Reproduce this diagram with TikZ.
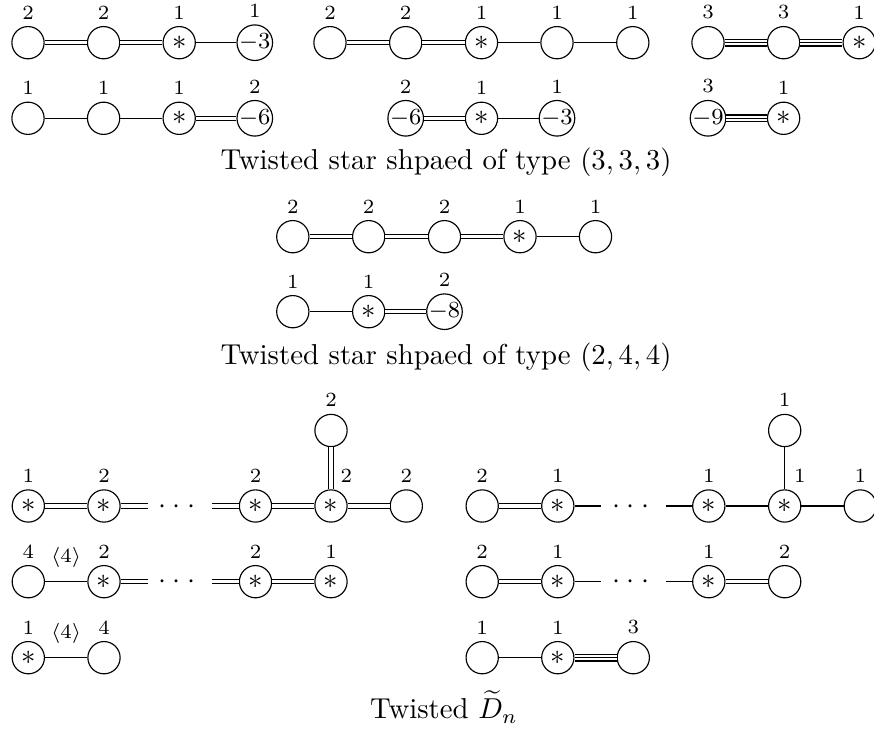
\documentclass[tikz,border=0pt]{standalone}
\newcommand{\starmark}{{\normalsize$\ast$}}
\begin{document}
\begin{tikzpicture}[x=0.3472pt,y=-0.3472pt,
  v/.style={circle, draw, minimum size=11.2pt, inner sep=0pt, font=\footnotesize},
  every label/.style={font=\scriptsize, inner sep=0pt},
  label distance=2.2pt,
  dbl/.style={double, double distance=1.1pt},
  trp/.style={preaction={draw, double, double distance=1.9pt}},
  dotsnode/.style={anchor=base, inner sep=0pt},
  captext/.style={anchor=base, inner sep=0pt},
  edgelab/.style={font=\scriptsize, inner sep=0pt, yshift=8.3pt}]
\useasboundingbox (0,0) rectangle (874,731);
\newcommand{\dts}{${\cdot}\hspace{2.4pt}{\cdot}\hspace{2.4pt}{\cdot}$}
% ---------- group A ----------
\node[v, label=above:2] (a1) at (28,42.7) {};
\node[v, label=above:2] (a2) at (103.6,42.7) {};
\node[v, label=above:1] (a3) at (179.2,42.7) {\starmark};
\node[v, label=above:1] (a4) at (254.8,42.7) {$-3$};
\draw[dbl] (a1) -- (a2);
\draw[dbl] (a2) -- (a3);
\draw (a3) -- (a4);
\node[v, label=above:1] (b1) at (28,118.3) {};
\node[v, label=above:1] (b2) at (103.6,118.3) {};
\node[v, label=above:1] (b3) at (179.2,118.3) {\starmark};
\node[v, label=above:2] (b4) at (254.8,118.3) {$-6$};
\draw (b1) -- (b2);
\draw (b2) -- (b3);
\draw[dbl] (b3) -- (b4);
% ---------- group B ----------
\node[v, label=above:2] (c1) at (330,42.7) {};
\node[v, label=above:2] (c2) at (405.7,42.7) {};
\node[v, label=above:1] (c3) at (481.5,42.7) {\starmark};
\node[v, label=above:1] (c4) at (557,42.7) {};
\node[v, label=above:1] (c5) at (632.8,42.7) {};
\draw[dbl] (c1) -- (c2);
\draw[dbl] (c2) -- (c3);
\draw (c3) -- (c4);
\draw (c4) -- (c5);
\node[v, label=above:2] (d1) at (405.7,118.3) {$-6$};
\node[v, label=above:1] (d2) at (481.5,118.3) {\starmark};
\node[v, label=above:1] (d3) at (557,118.3) {$-3$};
\draw[dbl] (d1) -- (d2);
\draw (d2) -- (d3);
% ---------- group C ----------
\node[v, label=above:3] (e1) at (708,42.7) {};
\node[v, label=above:3] (e2) at (783.6,42.7) {};
\node[v, label=above:1] (e3) at (859.2,42.7) {\starmark};
\draw[trp] (e1) -- (e2);
\draw[trp] (e2) -- (e3);
\node[v, label=above:3] (f1) at (708,118.3) {$-9$};
\node[v, label=above:1] (f2) at (783.6,118.3) {\starmark};
\draw[trp] (f1) -- (f2);
\node[captext] (cap1) at (446,170) {Twisted star shpaed of type $(3,3,3)$};
% ---------- middle ----------
\node[v, label=above:2] (g1) at (292.8,236.7) {};
\node[v, label=above:2] (g2) at (368.7,236.7) {};
\node[v, label=above:2] (g3) at (444.5,236.7) {};
\node[v, label=above:1] (g4) at (520,236.7) {\starmark};
\node[v, label=above:1] (g5) at (595.5,236.7) {};
\draw[dbl] (g1) -- (g2);
\draw[dbl] (g2) -- (g3);
\draw[dbl] (g3) -- (g4);
\draw (g4) -- (g5);
\node[v, label=above:1] (h1) at (292.8,311.7) {};
\node[v, label=above:1] (h2) at (368.7,311.7) {\starmark};
\node[v, label=above:2] (h3) at (444.5,311.7) {$-8$};
\draw (h1) -- (h2);
\draw[dbl] (h2) -- (h3);
\node[captext] (cap2) at (446,365) {Twisted star shpaed of type $(2,4,4)$};
% ---------- bottom left ----------
\node[v, label=above:2] (k0) at (331,430.5) {};
\node[v, label=above:1] (k1) at (28.3,506) {\starmark};
\node[v, label=above:2] (k2) at (104,506) {\starmark};
\coordinate (kL) at (148,506);
\node[dotsnode] (kd) at (177,513.2) {\dts};
\coordinate (kR) at (212,506);
\node[v, label=above:2] (k3) at (255.5,506) {\starmark};
\node[v, label={[xshift=5.3pt]above:2}] (k4) at (331,506) {\starmark};
\node[v, label=above:2] (k5) at (406.3,506) {};
\draw[dbl] (k1) -- (k2);
\draw[dbl] (k2) -- (kL);
\draw[dbl] (kR) -- (k3);
\draw[dbl] (k3) -- (k4);
\draw[dbl] (k4) -- (k5);
\draw[dbl] (k0) -- (k4);
\node[v, label=above:4] (m1) at (28.3,581.7) {};
\node[v, label=above:2] (m2) at (104,581.7) {\starmark};
\coordinate (mL) at (148,581.7);
\node[dotsnode] (md) at (177,588.9) {\dts};
\coordinate (mR) at (212,581.7);
\node[v, label=above:2] (m3) at (255.5,581.7) {\starmark};
\node[v, label=above:1] (m4) at (331,581.7) {\starmark};
\draw (m1) -- node[edgelab] {$\langle 4\rangle$} (m2);
\draw[dbl] (m2) -- (mL);
\draw[dbl] (mR) -- (m3);
\draw[dbl] (m3) -- (m4);
\node[v, label=above:1] (n1) at (28.3,657.7) {\starmark};
\node[v, label=above:4] (n2) at (104,657.7) {};
\draw (n1) -- node[edgelab] {$\langle 4\rangle$} (n2);
% ---------- bottom right ----------
\node[v, label=above:1] (p0) at (784.7,430.5) {};
\node[v, label=above:2] (p1) at (482.2,506) {};
\node[v, label=above:1] (p2) at (557.8,506) {\starmark};
\coordinate (pL) at (601,506);
\node[dotsnode] (pd) at (631,513.2) {\dts};
\coordinate (pR) at (666,506);
\node[v, label=above:1] (p3) at (708.8,506) {\starmark};
\node[v, label={[xshift=5.3pt]above:1}] (p4) at (784.7,506) {\starmark};
\node[v, label=above:1] (p5) at (860.3,506) {};
\draw[dbl] (p1) -- (p2);
\draw (p2) -- (pL);
\draw (pR) -- (p3);
\draw (p3) -- (p4);
\draw (p4) -- (p5);
\draw (p0) -- (p4);
\node[v, label=above:2] (q1) at (482.2,581.7) {};
\node[v, label=above:1] (q2) at (557.8,581.7) {\starmark};
\coordinate (qL) at (601,581.7);
\node[dotsnode] (qd) at (631,588.9) {\dts};
\coordinate (qR) at (666,581.7);
\node[v, label=above:1] (q3) at (708.8,581.7) {\starmark};
\node[v, label=above:2] (q4) at (784.7,581.7) {};
\draw[dbl] (q1) -- (q2);
\draw (q2) -- (qL);
\draw (qR) -- (q3);
\draw[dbl] (q3) -- (q4);
\node[v, label=above:1] (r1) at (482.2,657.7) {};
\node[v, label=above:1] (r2) at (557.8,657.7) {\starmark};
\node[v, label=above:3] (r3) at (633.3,657.7) {};
\draw (r1) -- (r2);
\draw[trp] (r2) -- (r3);
\node[captext] (cap3) at (444,719) {Twisted $\widetilde{D}_n$};
\end{tikzpicture}
\end{document}
